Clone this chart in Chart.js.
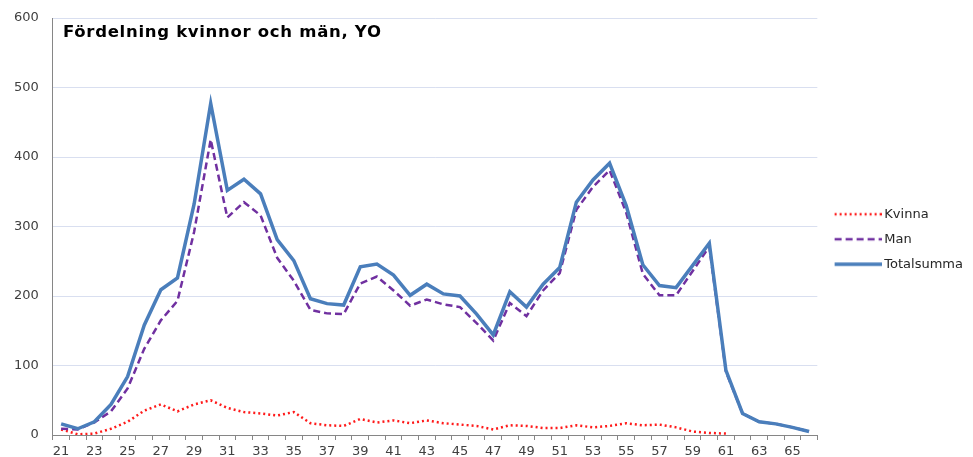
<!DOCTYPE html>
<html>
<head>
<meta charset="utf-8">
<script src="https://cdn.jsdelivr.net/npm/chart.js@4/dist/chart.umd.min.js"></script>
<style>
  html, body { margin: 0; padding: 0; background: #ffffff; }
  #wrap { position: relative; width: 973px; height: 457px; }
  #title { position: absolute; left: 63px; top: 22px; font-family: "DejaVu Sans", sans-serif; font-weight: bold; font-size: 16.5px; letter-spacing: 0.7px; color: #000; white-space: nowrap; }
</style>
</head>
<body>
<div id="wrap">
  <canvas id="c" width="973" height="457"></canvas>
  <div id="title">Fördelning kvinnor och män, YO</div>
</div>
<script>
const ages = ['21','22','23','24','25','26','27','28','29','30','31','32','33','34','35','36','37','38','39','40','41','42','43','44','45','46','47','48','49','50','51','52','53','54','55','56','57','58','59','60','61','62','63','64','65','66'];
const kvinna = [8,1,2,9,19,35,44,34,44,50,39,33,31,28,33,17,14,13,23,18,21,17,21,17,15,13,8,14,13,10,10,14,11,13,17,14,15,11,5,3,2,null,null,null,null,null];
const man = [9,8,18,34,67,124,165,193,292,425,313,335,316,255,222,180,175,174,218,228,208,186,195,188,184,161,136,190,171,208,233,324,357,381,320,232,201,201,236,271,91,31,19,16,11,5];
const totalsumma = [16,9,19,44,84,158,209,226,332,477,352,368,347,281,251,196,189,187,242,246,230,201,217,203,200,174,144,206,184,217,241,335,367,391,330,245,215,212,244,276,93,31,19,16,11,5];
const yTicks = [0,100,200,300,400,500,600];

// legend sample images (line swatches)
function swatch(color, width, dash) {
  const c = document.createElement('canvas');
  c.width = 56; c.height = 6;
  const g = c.getContext('2d');
  g.strokeStyle = color;
  g.lineWidth = width;
  g.setLineDash(dash);
  g.beginPath();
  g.moveTo(9, 3);
  g.lineTo(56, 3);
  g.stroke();
  return c;
}

new Chart(document.getElementById('c'), {
  type: 'line',
  data: {
    labels: ages,
    datasets: [
      { label: 'Kvinna', data: kvinna, borderColor: '#ff1a1a', borderWidth: 2.5, borderDash: [2, 3], pointRadius: 0, pointStyle: swatch('#ff1a1a', 2.5, [2, 3]), tension: 0, fill: false, order: 2 },
      { label: 'Man', data: man, borderColor: '#7030a0', borderWidth: 2.5, borderDash: [7, 4], pointRadius: 0, pointStyle: swatch('#7030a0', 2.5, [7, 4]), tension: 0, fill: false, order: 1 },
      { label: 'Totalsumma', data: totalsumma, borderColor: '#4a7ebb', borderWidth: 3.5, pointRadius: 0, pointStyle: swatch('#4a7ebb', 3.5, []), tension: 0, fill: false, order: 0 }
    ]
  },
  options: {
    responsive: false,
    animation: false,
    layout: { padding: { top: 18, right: 0, left: 10, bottom: -6 } },
    plugins: {
      tooltip: { enabled: false },
      title: { display: false },
      legend: {
        position: 'right',
        align: 'center',
        title: { display: true, text: '', padding: -5.5, font: { size: 7 } },
        labels: {
          sort: (a, b) => a.datasetIndex - b.datasetIndex,
          usePointStyle: true,
          pointStyleWidth: 48.5,
          padding: 12,
          color: '#262626',
          font: { family: 'DejaVu Sans', size: 13 }
        }
      }
    },
    scales: {
      x: {
        offset: true,
        grid: { display: true, drawOnChartArea: false, drawTicks: true, tickLength: 5, color: '#868686', offset: true },
        border: { color: '#868686', width: 1 },
        ticks: {
          autoSkip: false,
          maxRotation: 0,
          padding: 5,
          color: '#404040',
          font: { family: 'DejaVu Sans', size: 13, lineHeight: 1 },
          callback: function (v, i) { return i % 2 === 0 ? ages[i] : ''; }
        }
      },
      y: {
        min: 0,
        max: 600,
        afterBuildTicks: (s) => { s.ticks = yTicks.map(v => ({ value: v })); },
        grid: { color: '#d9dff0', drawTicks: true, tickLength: 10, tickColor: 'rgba(0,0,0,0)', lineWidth: 1 },
        border: { color: '#868686', width: 1 },
        ticks: {
          padding: 4,
          color: '#404040',
          font: { family: 'DejaVu Sans', size: 13 }
        }
      }
    }
  }
});
</script>
</body>
</html>
